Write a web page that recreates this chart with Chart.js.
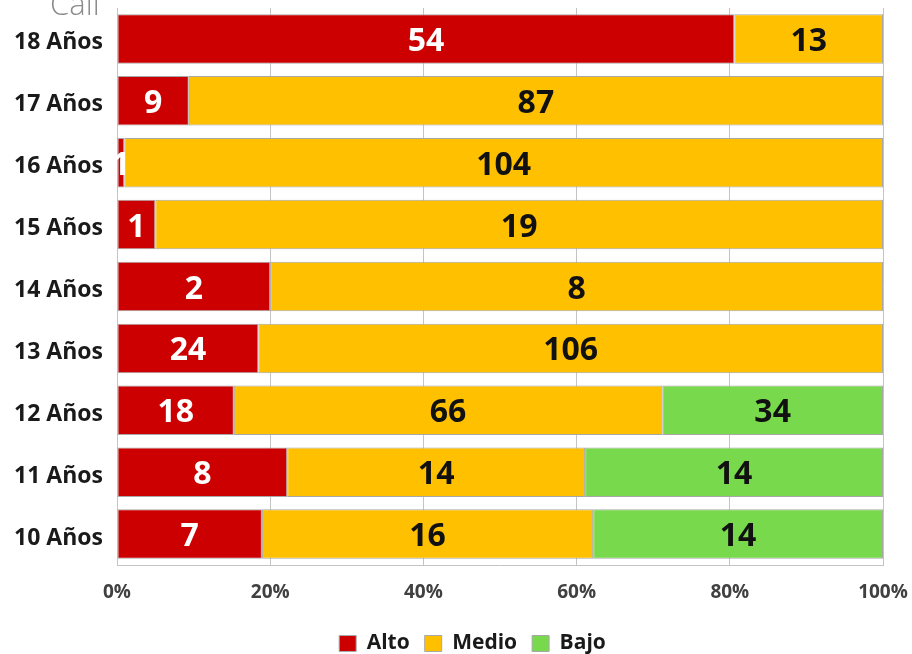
<!DOCTYPE html>
<html>
<head>
<meta charset="utf-8">
<script src="https://cdn.jsdelivr.net/npm/chart.js@4"></script>
<style>
  body { margin: 0; background: #fff; }
  #caja { width: 912px; height: 654px; }
</style>
</head>
<body>
<div id="caja"><canvas id="grafico"></canvas></div>
<script>
const edades = ['18 Años', '17 Años', '16 Años', '15 Años', '14 Años', '13 Años', '12 Años', '11 Años', '10 Años'];
const alto = [54, 9, 1, 1, 2, 24, 18, 8, 7];
const medio = [13, 87, 104, 19, 8, 106, 66, 14, 16];
const bajo = [0, 0, 0, 0, 0, 0, 34, 14, 14];
const marcasX = [0, 20, 40, 60, 80, 100];

const totales = edades.map((_, i) => alto[i] + medio[i] + bajo[i]);
const porcentaje = (serie) => serie.map((v, i) => v / totales[i] * 100);

// etiquetas con el conteo dentro de cada segmento
const etiquetas = {
  id: 'etiquetas',
  afterDatasetsDraw(chart) {
    const { ctx } = chart;
    ctx.save();
    ctx.font = 'bold 32px "Open Sans"';
    ctx.textAlign = 'center';
    ctx.textBaseline = 'middle';
    chart.data.datasets.forEach((ds, i) => {
      chart.getDatasetMeta(i).data.forEach((barra, j) => {
        const n = ds.conteos[j];
        if (!n) return;
        ctx.fillStyle = ds.colorTexto;
        ctx.fillText(n, (barra.x + barra.base) / 2, barra.y + 3);
      });
    });
    ctx.restore();
  }
};

// texto recortado arriba a la izquierda
const rotulo = {
  id: 'rotulo',
  afterDraw(chart) {
    const { ctx } = chart;
    ctx.save();
    ctx.font = '300 31px "Open Sans"';
    ctx.fillStyle = '#8c8c8c';
    ctx.textBaseline = 'alphabetic';
    ctx.fillText('Cali', 50, 15);
    ctx.restore();
  }
};

// la leyenda va un poco a la derecha del centro
const correrLeyenda = {
  id: 'correrLeyenda',
  afterLayout(chart) {
    chart.legend.left += 31;
    chart.legend.right += 31;
  }
};

const sinRelleno = (eje) => {
  eje.paddingTop = 0;
  eje.paddingBottom = 0;
  eje.paddingLeft = 0;
  eje.paddingRight = 0;
};

new Chart(document.getElementById('grafico'), {
  type: 'bar',
  data: {
    labels: edades,
    datasets: [{
      label: 'Alto',
      data: porcentaje(alto),
      conteos: alto,
      colorTexto: '#ffffff',
      backgroundColor: '#cc0000',
      borderColor: '#a8a8a8',
      borderWidth: 1
    }, {
      label: 'Medio',
      data: porcentaje(medio),
      conteos: medio,
      colorTexto: '#111111',
      backgroundColor: '#ffc000',
      borderColor: '#a8a8a8',
      borderWidth: 1
    }, {
      label: 'Bajo',
      data: porcentaje(bajo),
      conteos: bajo,
      colorTexto: '#111111',
      backgroundColor: '#77d94b',
      borderColor: '#a8a8a8',
      borderWidth: 1
    }]
  },
  options: {
    indexAxis: 'y',
    responsive: true,
    maintainAspectRatio: false,
    animation: false,
    layout: { padding: { top: 8, right: 29, left: 0, bottom: -10 } },
    datasets: { bar: { barPercentage: 0.8, categoryPercentage: 1, borderSkipped: false } },
    plugins: {
      tooltip: { enabled: false },
      legend: {
        position: 'bottom',
        labels: {
          boxWidth: 17,
          boxHeight: 16,
          padding: 15,
          color: '#1a1a1a',
          font: { family: 'Open Sans', size: 21, weight: 'bold' }
        }
      }
    },
    scales: {
      x: {
        stacked: true,
        min: 0,
        max: 100,
        afterBuildTicks: (eje) => { eje.ticks = marcasX.map((v) => ({ value: v })); },
        afterFit: (eje) => { eje.height = 53; sinRelleno(eje); },
        ticks: {
          callback: (v) => v + '%',
          color: '#404040',
          padding: 16,
          font: { family: 'Open Sans', size: 19, weight: 'bold' }
        },
        grid: { color: '#c4c4c4', drawTicks: false },
        border: { color: '#c4c4c4' }
      },
      y: {
        stacked: true,
        afterFit: (eje) => { eje.width = 117; sinRelleno(eje); },
        ticks: {
          color: '#1a1a1a',
          padding: 6,
          labelOffset: 4,
          font: { family: 'Open Sans', size: 23, weight: 'bold' }
        },
        grid: { display: false },
        border: { color: '#c4c4c4' }
      }
    }
  },
  plugins: [etiquetas, rotulo, correrLeyenda]
});
</script>
</body>
</html>
